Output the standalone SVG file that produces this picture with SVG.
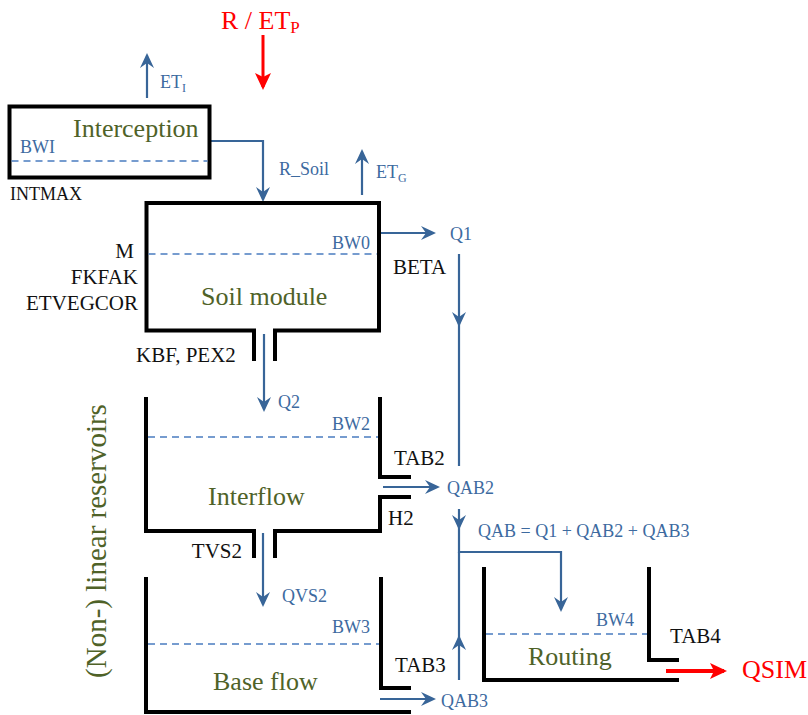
<svg xmlns="http://www.w3.org/2000/svg" width="808" height="715" viewBox="0 0 808 715">
<style>
.wall{stroke:#000;stroke-width:4;fill:none;stroke-linejoin:miter}
.flow{stroke:#386598;stroke-width:2.2;fill:none}
.red{stroke:#FF0000;stroke-width:3;fill:none}
.lvl{stroke:#4A7CC0;stroke-width:1.5;stroke-dasharray:7 5;fill:none}
text{font-family:"Liberation Serif","Times New Roman",serif}
.blue{fill:#3D6A9F;font-size:18px;font-family:"Liberation Serif",serif}
.blk{fill:#111111;font-size:21px;font-family:"Liberation Serif",serif}
.name{fill:#4F6228;font-size:26px;font-family:"Liberation Serif",serif}
.rt{fill:#FF0000;font-size:26px;font-family:"Liberation Serif",serif}
</style>
<defs>
<marker id="ab" markerUnits="userSpaceOnUse" viewBox="0 0 15 14" refX="12.5" refY="7" markerWidth="15" markerHeight="14" orient="auto">
<path d="M0,0 L15,7 L0,14 L5,7 Z" fill="#386598"/>
</marker>
<marker id="ar" markerUnits="userSpaceOnUse" viewBox="0 0 17 16" refX="14" refY="8" markerWidth="17" markerHeight="16" orient="auto">
<path d="M0,0 L17,8 L0,16 L4,8 Z" fill="#FF0000"/>
</marker>
</defs>

<g id="connectors">
<path class="red" d="M263,35 V87" marker-end="url(#ar)"/>
<path class="flow" d="M147,98 V55.5" marker-end="url(#ab)"/>
<path class="flow" d="M210,141 H263 V199.5" marker-end="url(#ab)"/>
<path class="flow" d="M362,195 V151.5" marker-end="url(#ab)"/>
<path class="flow" d="M381,233 H433.5" marker-end="url(#ab)"/>
<path class="flow" d="M459,254 V324.5" marker-end="url(#ab)"/>
<path class="flow" d="M459,320 V466"/>
<path class="flow" d="M264,334 V409.5" marker-end="url(#ab)"/>
<path class="flow" d="M383,487 H437.5" marker-end="url(#ab)"/>
<path class="flow" d="M459,509 V527.5" marker-end="url(#ab)"/>
<path class="flow" d="M459,520 V552 H561 V609.5" marker-end="url(#ab)"/>
<path class="flow" d="M459,680 V637.5" marker-end="url(#ab)"/>
<path class="flow" d="M459,645 V552"/>
<path class="flow" d="M263,533 V604.5" marker-end="url(#ab)"/>
<path class="flow" d="M380,699 H433.5" marker-end="url(#ab)"/>
<path class="red" style="stroke-width:4" d="M666,671 H724" marker-end="url(#ar)"/>
</g>

<g id="input">
<text class="rt" x="221" y="29">R / ET<tspan font-size="17" dy="4">P</tspan></text>
<text class="blue" x="160" y="88">ET<tspan font-size="12" dy="4">I</tspan></text>
<text class="blue" x="279" y="175">R_Soil</text>
<text class="blue" x="376" y="178">ET<tspan font-size="12" dy="4">G</tspan></text>
</g>

<g id="n-interception">
<rect class="wall" x="9.5" y="106.5" width="200" height="71"/>
<path class="lvl" d="M11.5,161 H207.5"/>
<text class="name" x="73" y="137">Interception</text>
<text class="blue" x="20" y="153">BWI</text>
<text class="blk" style="font-size:18px" x="10" y="200">INTMAX</text>
</g>

<g id="n-soil">
<path class="wall" d="M254,361 V330.5 H146.5 V203 H379 V330.5 H275 V361"/>
<path class="lvl" d="M148.5,254 H377"/>
<text class="name" x="201" y="305">Soil module</text>
<text class="blue" x="370" y="249" text-anchor="end">BW0</text>
<text class="blk" x="134" y="258" text-anchor="end">M</text>
<text class="blk" x="138" y="284" text-anchor="end">FKFAK</text>
<text class="blk" x="138" y="310" text-anchor="end">ETVEGCOR</text>
<text class="blk" x="136" y="362">KBF, PEX2</text>
<text class="blk" x="393" y="274">BETA</text>
<text class="blue" x="450" y="240">Q1</text>
</g>

<g id="n-interflow">
<path class="wall" d="M146,397 V531 H254 V558"/>
<path class="wall" d="M275,558 V531 H380 V497 H411"/>
<path class="wall" d="M380,397 V477 H411"/>
<path class="lvl" d="M148,437 H378"/>
<text class="name" x="208" y="505">Interflow</text>
<text class="blue" x="370" y="430" text-anchor="end">BW2</text>
<text class="blue" x="278" y="408">Q2</text>
<text class="blk" x="394" y="465">TAB2</text>
<text class="blk" x="388" y="525">H2</text>
<text class="blk" x="242" y="558" text-anchor="end">TVS2</text>
<text class="blue" x="447" y="494">QAB2</text>
<text class="blue" x="478" y="537">QAB = Q1 + QAB2 + QAB3</text>
</g>

<g id="n-baseflow">
<path class="wall" d="M146,577 V712 H411"/>
<path class="wall" d="M381,577 V688 H411"/>
<path class="lvl" d="M148,644 H379"/>
<text class="name" x="213" y="690">Base flow</text>
<text class="blue" x="370" y="633" text-anchor="end">BW3</text>
<text class="blue" x="282" y="602">QVS2</text>
<text class="blk" x="395" y="672">TAB3</text>
<text class="blue" x="441" y="707">QAB3</text>
</g>

<g id="n-routing">
<path class="wall" d="M484,567 V680 H679"/>
<path class="wall" d="M649,567 V660 H679"/>
<path class="lvl" d="M486,634 H647"/>
<text class="name" x="528" y="665">Routing</text>
<text class="blue" x="596" y="626">BW4</text>
<text class="blk" x="670" y="643">TAB4</text>
<text class="rt" x="742" y="678">QSIM</text>
</g>

<g id="side-label">
<text class="name" style="font-size:29px" transform="translate(106,541) rotate(-90)" text-anchor="middle">(Non-) linear reservoirs</text>
</g>
</svg>
